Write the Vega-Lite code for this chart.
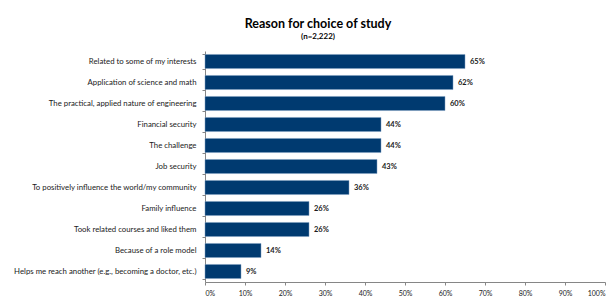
{
  "$schema": "https://vega.github.io/schema/vega-lite/v6.json",
  "width": 400,
  "height": 231,
  "autosize": {"type": "none"},
  "padding": {"left": 205, "top": 51, "right": 10, "bottom": 17},
  "background": "white",
  "config": {"view": {"stroke": null}, "font": "Lato"},
  "title": {
    "text": "Reason for choice of study",
    "subtitle": "(n=2,222)",
    "anchor": "middle",
    "frame": "group",
    "dx": -87,
    "offset": 6,
    "fontSize": 12.5,
    "fontWeight": "bold",
    "color": "#000000",
    "subtitleFontSize": 8,
    "subtitleFontWeight": "bold",
    "subtitleColor": "#000000",
    "subtitlePadding": 3
  },
  "data": {
    "values": [
      {"reason": "Related to some of my interests", "pct": 0.65},
      {"reason": "Application of science and math", "pct": 0.62},
      {"reason": "The practical, applied nature of engineering", "pct": 0.60},
      {"reason": "Financial security", "pct": 0.44},
      {"reason": "The challenge", "pct": 0.44},
      {"reason": "Job security", "pct": 0.43},
      {"reason": "To positively influence the world/my community", "pct": 0.36},
      {"reason": "Family influence", "pct": 0.26},
      {"reason": "Took related courses and liked them", "pct": 0.26},
      {"reason": "Because of a role model", "pct": 0.14},
      {"reason": "Helps me reach another (e.g., becoming a doctor, etc.)", "pct": 0.09}
    ]
  },
  "encoding": {
    "y": {
      "field": "reason",
      "type": "nominal",
      "sort": null,
      "scale": {"paddingInner": 0.33, "paddingOuter": 0.165},
      "axis": {
        "title": null,
        "labelFontSize": 7.8,
        "labelColor": "#1a1a1a",
        "labelPadding": 6,
        "labelLimit": 250,
        "domainColor": "#868686",
        "tickColor": "#868686",
        "tickSize": 3,
        "tickBand": "extent",
        "grid": false
      }
    },
    "x": {
      "field": "pct",
      "type": "quantitative",
      "scale": {"domain": [0, 1], "nice": false},
      "axis": {
        "title": null,
        "format": ".0%",
        "values": [0, 0.1, 0.2, 0.3, 0.4, 0.5, 0.6, 0.7, 0.8, 0.9, 1],
        "labelOverlap": false,
        "labelFontSize": 7,
        "labelColor": "#1a1a1a",
        "domainColor": "#868686",
        "tickColor": "#868686",
        "tickSize": 3,
        "labelPadding": 4,
        "grid": false
      }
    }
  },
  "layer": [
    {"mark": {"type": "bar", "color": "#003A70", "stroke": "#7F9FC0", "strokeWidth": 0.5}},
    {
      "mark": {"type": "text", "align": "left", "dx": 5, "fontSize": 7.5, "fontWeight": "bold", "color": "#1a1a1a"},
      "encoding": {"text": {"field": "pct", "type": "quantitative", "format": ".0%"}}
    }
  ]
}
